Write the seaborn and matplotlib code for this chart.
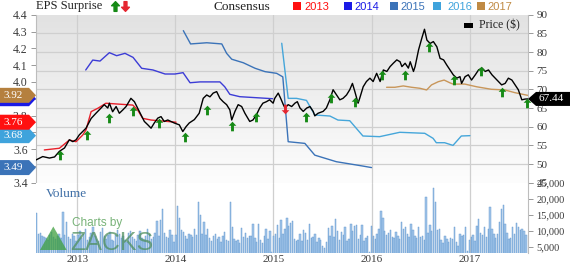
import numpy as np
import pandas as pd
import matplotlib
matplotlib.use("Agg")
import matplotlib.pyplot as plt
import seaborn as sns
from matplotlib.path import Path
from matplotlib.patches import Polygon, Rectangle
from matplotlib.lines import Line2D
from matplotlib.colors import LinearSegmentedColormap
import matplotlib.transforms as mtransforms
from matplotlib.ticker import FixedLocator

# ---------------- data ----------------
price_dates = ['2012-08-01','2012-08-26','2012-09-20','2012-10-09','2012-10-27','2012-11-15','2012-12-03','2012-12-16','2012-12-28',
 '2013-01-09','2013-02-03','2013-02-22','2013-03-12','2013-03-31','2013-04-12','2013-04-25','2013-05-01','2013-05-13','2013-05-26',
 '2013-06-07','2013-06-20','2013-07-02','2013-07-20','2013-08-02','2013-08-14','2013-08-27','2013-09-08','2013-09-21','2013-10-03',
 '2013-10-15','2013-10-28','2013-11-09','2013-11-21','2013-12-04','2013-12-16','2013-12-28','2014-01-16','2014-01-29','2014-02-10',
 '2014-02-22','2014-03-13','2014-03-31','2014-04-15','2014-04-28','2014-05-10','2014-05-22','2014-06-04','2014-06-16','2014-06-28',
 '2014-07-11','2014-07-23','2014-07-30','2014-08-11','2014-08-23','2014-09-05','2014-09-17','2014-10-05','2014-10-17','2014-10-30',
 '2014-11-11','2014-11-23','2014-12-06','2014-12-18','2014-12-31','2015-01-06','2015-01-19','2015-01-28','2015-02-07','2015-02-13',
 '2015-02-25','2015-03-10','2015-03-22','2015-03-31','2015-04-10','2015-04-22','2015-05-05','2015-05-17','2015-05-29','2015-06-04',
 '2015-06-16','2015-07-05','2015-07-17','2015-07-30','2015-08-11','2015-08-24','2015-09-05','2015-09-17','2015-09-30','2015-10-12',
 '2015-10-22','2015-10-31','2015-11-12','2015-11-18','2015-12-01','2015-12-13','2015-12-26','2016-01-07','2016-01-20','2016-02-02',
 '2016-02-14','2016-02-27','2016-03-10','2016-03-22','2016-04-04','2016-04-16','2016-04-23','2016-05-05','2016-05-17','2016-05-24',
 '2016-06-05','2016-06-11','2016-06-24','2016-07-06','2016-07-16','2016-07-25','2016-08-06','2016-08-18','2016-08-31','2016-09-12',
 '2016-09-25','2016-10-07','2016-10-19','2016-10-31','2016-11-13','2016-11-25','2016-12-01','2016-12-14','2016-12-26','2017-01-07',
 '2017-01-21','2017-02-02','2017-02-15','2017-02-27','2017-03-11','2017-03-24','2017-04-05','2017-04-17','2017-04-29','2017-05-12',
 '2017-05-24','2017-06-06','2017-06-18','2017-06-30','2017-07-13','2017-07-25','2017-08-04']
price_vals = [51.1,52.0,51.6,51.9,53.4,54.3,56.5,56.0,56.5,
 57.8,59.6,62.2,63.6,65.0,65.9,65.0,66.3,64.0,65.4,
 63.6,64.5,65.4,67.6,66.7,65.0,63.2,61.4,60.5,59.6,
 61.0,62.3,62.7,61.4,61.8,61.4,61.0,60.5,58.7,60.0,
 61.0,61.9,63.6,67.6,68.5,68.0,69.0,69.4,67.6,66.7,
 65.9,64.5,61.8,64.1,65.9,65.4,63.6,61.4,61.8,63.2,
 65.0,66.3,66.7,67.2,66.3,67.6,69.0,67.6,65.9,65.0,
 65.9,65.4,66.3,66.7,65.0,64.1,65.0,65.4,64.1,62.9,
 63.6,64.1,65.0,67.2,69.9,68.5,67.2,67.6,68.5,69.9,
 71.6,69.4,66.3,67.6,70.7,72.1,73.0,72.1,74.3,72.1,
 75.2,74.8,76.1,77.0,77.9,77.4,76.1,77.0,75.7,77.4,
 74.8,76.1,80.6,83.7,86.1,83.2,82.3,82.8,81.4,78.3,
 77.9,76.5,75.2,73.9,73.0,73.4,71.6,73.4,73.9,72.5,
 73.9,75.2,75.7,74.8,75.2,73.9,73.0,72.1,71.2,71.6,
 73.0,72.5,71.2,69.9,67.2,67.4,67.44]

# consensus EPS estimates by fiscal year
cons_2013_dates = ['2012-09-01','2012-10-27','2012-12-03','2012-12-28','2013-01-22','2013-02-03','2013-02-22','2013-03-19',
                   '2013-04-18','2013-07-27','2013-08-14','2013-09-02','2013-10-03','2014-01-04']
cons_2013_vals = [3.595,3.605,3.654,3.644,3.684,3.714,3.823,3.843,3.873,3.862,3.833,3.783,3.773,3.76]
cons_2014_dates = ['2013-02-02','2013-02-28','2013-03-27','2013-05-01','2013-05-28','2013-06-28','2013-07-28','2013-08-29',
                   '2013-10-10','2013-11-24','2013-12-31','2014-01-30','2014-02-25','2014-04-03','2014-06-16','2014-07-04',
                   '2014-07-23','2014-08-29','2014-12-29']
cons_2014_vals = [4.071,4.130,4.124,4.174,4.156,4.170,4.146,4.081,4.071,4.047,4.047,4.055,3.995,4.0,4.0,3.971,3.926,3.912,3.90]
cons_2015_dates = ['2014-01-31','2014-02-27','2014-04-03','2014-04-28','2014-06-23','2014-07-11','2014-07-30','2014-09-11',
                   '2014-10-25','2014-12-01','2015-01-13','2015-02-05','2015-02-25','2015-04-28','2015-06-04','2015-08-23',
                   '2015-11-30','2016-01-01']
cons_2015_vals = [4.305,4.226,4.23,4.233,4.226,4.17,4.135,4.114,4.081,4.061,4.051,4.03,3.644,3.634,3.564,3.525,3.499,3.49]
cons_2016_dates = ['2015-02-01','2015-02-25','2015-03-28','2015-05-04','2015-06-04','2015-07-30','2015-08-29','2015-10-12',
                   '2015-11-30','2016-01-31','2016-04-15','2016-07-17','2016-08-17','2016-08-29','2016-09-29','2016-10-30',
                   '2016-11-30','2017-01-01']
cons_2016_vals = [4.23,3.902,3.902,3.89,3.803,3.797,3.773,3.769,3.678,3.674,3.70,3.694,3.664,3.638,3.638,3.622,3.678,3.68]
cons_2017_dates = ['2016-02-26','2016-03-28','2016-04-28','2016-05-29','2016-06-29','2016-07-24','2016-08-11','2016-09-05',
                   '2016-09-27','2016-10-18','2016-10-30','2016-12-13','2017-01-26','2017-03-22','2017-05-11','2017-06-17',
                   '2017-08-04']
cons_2017_vals = [3.968,3.968,3.976,3.968,3.962,3.952,3.982,4.001,4.011,3.995,3.987,3.987,3.971,3.956,3.952,3.936,3.92]

# EPS surprise markers (date, price level, beat=True / miss=False)
surp_dates = ['2012-10-30','2013-02-06','2013-05-01','2013-07-29','2013-11-03','2014-02-06','2014-04-30','2014-07-30',
              '2014-10-27','2015-02-12','2015-05-04','2015-08-02','2015-11-01','2016-02-09','2016-05-03','2016-08-01',
              '2016-11-01','2017-02-10','2017-05-01','2017-08-03']
surp_prices = [52.5,57.8,62.3,64.3,61.0,57.2,64.5,60.2,62.7,64.7,62.5,67.6,66.7,73.9,73.9,81.4,72.5,74.9,69.4,66.3]
surp_beat = [True]*9 + [False] + [True]*10

# weekly volume (thousands of shares), weeks starting 2012-08-03
volume_k = [15.5,9.0,9.2,8.4,8.0,7.6,7.2,8.8,9.6,8.1,7.4,8.3,9.0,7.7,15.8,8.6,12.6,7.9,7.3,8.9,8.2,6.8,
 8.5,9.8,7.6,8.9,10.5,7.2,8.0,9.3,11.2,8.4,7.5,6.9,9.7,10.8,8.2,7.4,8.8,9.5,7.1,6.8,8.6,10.2,9.0,7.7,8.3,7.0,
 6.6,9.4,10.0,8.1,7.3,6.9,8.7,9.9,7.8,7.2,8.4,10.6,9.1,7.5,8.0,9.2,12.9,8.3,13.2,16.9,9.4,8.1,7.6,10.3,8.8,6.4,
 8.6,17.7,13.9,10.1,9.6,8.2,7.4,9.0,8.5,7.9,10.4,8.8,19.0,15.0,9.1,12.8,8.6,10.5,7.8,6.9,8.3,9.1,7.5,8.0,6.6,8.4,
 9.6,7.2,6.8,19.1,11.0,7.4,6.9,7.1,6.2,10.7,8.0,9.2,7.6,8.3,8.4,12.0,7.7,6.5,12.1,7.0,6.1,8.3,10.6,7.4,9.8,3.5,
 8.2,9.0,11.7,7.6,13.2,8.9,10.4,14.0,11.6,12.5,13.1,7.4,6.8,7.2,8.9,6.7,10.2,9.4,7.0,12.0,7.6,8.1,9.0,6.5,7.8,7.1,
 5.2,4.6,6.4,10.8,8.3,11.4,7.9,13.5,10.0,7.0,9.6,8.5,11.2,6.8,7.4,12.1,9.9,11.6,11.9,7.3,8.8,11.8,6.9,7.7,8.4,3.4,
 11.6,8.2,7.4,8.9,10.4,16.2,14.1,9.8,8.7,9.4,10.2,8.0,7.6,9.6,8.2,7.5,12.8,10.6,11.3,9.0,8.1,12.0,10.1,8.4,7.7,11.0,
 7.9,8.3,7.1,20.6,9.3,11.9,10.0,23.2,18.9,10.2,10.6,7.0,6.3,8.2,7.5,6.6,7.6,7.4,11.2,6.5,5.2,8.9,8.4,8.6,11.1,3.6,
 7.1,8.1,8.6,6.9,11.5,13.8,9.2,8.7,11.0,8.1,10.6,17.5,10.5,8.9,7.8,9.0,12.8,16.8,18.0,12.0,9.2,7.5,7.6,11.2,8.9,
 12.4,11.0,10.2,10.5,9.8,8.6]

years = ['2013', '2014', '2015', '2016', '2017']
year_colors = ['#ff1010', '#1a1ae6', '#3b73b8', '#3fa3dc', '#c08a44']
line_colors = ['#e8202a', '#3c3cd6', '#3b73b8', '#45a6da', '#c8965a']
badge_vals = [3.76, 3.90, 3.49, 3.68, 3.92]
badge_text = ['3.76', '3.90', '3.49', '3.68', '3.92']
last_price = 67.44
eps_ticks = [3.4, 3.5, 3.6, 3.7, 3.8, 3.9, 4.0, 4.1, 4.2, 4.3, 4.4]
eps_labels = ['3.4', '', '3.6', '', '3.8', '', '4.0', '4.1', '4.2', '4.3', '4.4']   # blanks sit under badges
price_ticks = [45, 50, 55, 60, 65, 70, 75, 80, 85, 90]
vol_ticks = [5000, 10000, 15000, 20000, 25000]

# ---------------- style ----------------
sns.set_theme(style='white')
plt.rcParams['font.family'] = ['Liberation Serif', 'DejaVu Serif']
plt.rcParams['axes.linewidth'] = 0.8

W, H = 570, 264
fig = plt.figure(figsize=(W / 100, H / 100), dpi=100)
fx = lambda x: x / W
fy = lambda y: 1 - y / H

L, R = 36, 528
TOP, MID, BOT = 14.7, 182.7, 253.1
rect_main = [fx(L), fy(MID), fx(R) - fx(L), fy(TOP) - fy(MID)]
rect_vol = [fx(L), fy(BOT), fx(R) - fx(L), fy(MID) - fy(BOT)]

# background gradient
bg = fig.add_axes(rect_main, zorder=-1)
grad = LinearSegmentedColormap.from_list('g', ['#fdfdfd', '#e2e2e2'])
bg.imshow(np.linspace(0, 1, 256).reshape(-1, 1), cmap=grad, aspect='auto', origin='lower', extent=[0, 1, 0, 1])
bg.set_axis_off()

ax_eps = fig.add_axes(rect_main)
ax_eps.patch.set_alpha(0)
ax_price = ax_eps.twinx()
ax_vol = fig.add_axes(rect_vol, sharex=ax_eps)
ax_vol.patch.set_facecolor('white')

xmin, xmax = pd.Timestamp('2012-08-01'), pd.Timestamp('2017-08-05')

# consensus lines
cons = [(cons_2013_dates, cons_2013_vals), (cons_2014_dates, cons_2014_vals), (cons_2015_dates, cons_2015_vals),
        (cons_2016_dates, cons_2016_vals), (cons_2017_dates, cons_2017_vals)]
for (d, v), c in zip(cons, line_colors):
    sns.lineplot(x=pd.to_datetime(d), y=v, ax=ax_eps, color=c, linewidth=1.0, estimator=None, sort=False, zorder=3)

# price line
sns.lineplot(x=pd.to_datetime(price_dates), y=price_vals, ax=ax_price, color='black', linewidth=1.0,
             estimator=None, sort=False, zorder=3)

# surprise arrows
up = Path([(0, 1), (0.8, 0.15), (0.3, 0.15), (0.3, -1), (-0.3, -1), (-0.3, 0.15), (-0.8, 0.15), (0, 1)],
          [Path.MOVETO] + [Path.LINETO] * 6 + [Path.CLOSEPOLY])
down = Path([(x, -y) for x, y in up.vertices], up.codes)
sd = pd.to_datetime(surp_dates)
beat_idx = [i for i, b in enumerate(surp_beat) if b]
miss_idx = [i for i, b in enumerate(surp_beat) if not b]
sns.scatterplot(x=sd[beat_idx], y=[surp_prices[i] for i in beat_idx], ax=ax_price, marker=up, s=48,
                color='#168a16', linewidth=0, zorder=4, clip_on=False)
sns.scatterplot(x=sd[miss_idx], y=[surp_prices[i] for i in miss_idx], ax=ax_price, marker=down, s=48,
                color='#e52630', linewidth=0, zorder=4)

# volume bars
vol_dates = pd.date_range('2012-08-03', periods=len(volume_k), freq='7D')
ax_vol.bar(vol_dates, np.array(volume_k) * 1000, width=5.2, color='#a3c6ea', edgecolor='#5f95cc',
           linewidth=0.3, zorder=2)

# ---------------- axes ----------------
ax_eps.set_xlim(xmin, xmax)
ax_eps.set_ylim(3.4, 4.4)
ax_price.set_ylim(45, 90)
ax_vol.set_ylim(3000, 25000)

year_ticks = pd.to_datetime([f'{y}-01-01' for y in years])
ax_vol.set_xticks(year_ticks)
ax_vol.set_xticklabels(years)
ax_eps.set_yticks(eps_ticks)
ax_eps.set_yticklabels(eps_labels)
ax_eps.yaxis.set_minor_locator(FixedLocator([3.4 + (p - 45) / 45 for p in price_ticks]))
ax_price.set_yticks(price_ticks)
ax_price.set_yticklabels([str(t) for t in price_ticks])
ax_vol.yaxis.tick_right()
ax_vol.set_yticks(vol_ticks)
ax_vol.set_yticklabels([f'{t:,}' for t in vol_ticks])

gc = '#cfcfcf'
ax_eps.grid(axis='x', color=gc, linewidth=0.9, zorder=0)
ax_eps.grid(axis='y', which='minor', color=gc, linewidth=0.9)
ax_eps.grid(axis='y', which='major', visible=False)
ax_vol.grid(axis='x', color=gc, linewidth=0.9)
ax_vol.grid(axis='y', visible=False)
ax_price.grid(False)
ax_eps.set_axisbelow(True)
ax_vol.set_axisbelow(True)

for a in (ax_eps, ax_price, ax_vol):
    a.set_xlabel('')
    a.set_ylabel('')
    for s in a.spines.values():
        s.set_visible(False)
ax_eps.spines['left'].set_visible(True)
ax_eps.spines['left'].set_color('#bdbdbd')
ax_price.spines['right'].set_visible(True)
ax_price.spines['right'].set_color('#bdbdbd')
ax_vol.spines['right'].set_visible(True)
ax_vol.spines['right'].set_color('#bdbdbd')

tc = '#3a3a3a'
ax_eps.tick_params(axis='y', which='major', left=True, length=3.5, width=0.7, color='#999999', pad=2.5,
                   labelsize=8.5, labelcolor=tc)
ax_eps.tick_params(axis='y', which='minor', length=0)
ax_eps.tick_params(axis='x', bottom=False, labelbottom=False)
ax_price.tick_params(axis='y', right=True, length=3.5, width=0.7, color='#999999', pad=2.5, labelsize=8,
                     labelcolor=tc)
ax_vol.tick_params(axis='y', right=True, left=False, length=3.5, width=0.7, color='#999999', pad=2.5,
                   labelsize=7.5, labelcolor=tc)
ax_vol.tick_params(axis='x', bottom=False, length=0, pad=1.5, labelsize=8, labelcolor=tc)

# ---------------- badges ----------------
tl = mtransforms.blended_transform_factory(mtransforms.IdentityTransform(), ax_eps.transData)
hh = 7.5 / 168.0
order = [1, 2, 3, 0, 4]
for i in order:
    v = badge_vals[i]
    poly = Polygon([(0, v + hh), (29, v + hh), (36, v), (29, v - hh), (0, v - hh)], closed=True,
                   transform=tl, facecolor=year_colors[i] if i != 4 else '#b5803e', edgecolor='none',
                   zorder=6, clip_on=False)
    ax_eps.add_patch(poly)
    if i != 1:
        ax_eps.text(13.5, v, badge_text[i], transform=tl, ha='center', va='center', color='white',
                    fontsize=8, zorder=7, clip_on=False)

tr = mtransforms.blended_transform_factory(mtransforms.IdentityTransform(), ax_price.transData)
hp = 7.0 / (168.0 / 45)
ax_price.add_patch(Polygon([(R, last_price), (R + 8, last_price + hp), (W, last_price + hp), (W, last_price - hp),
                            (R + 8, last_price - hp)], closed=True, transform=tr, facecolor='black',
                           edgecolor='none', zorder=6, clip_on=False))
ax_price.text(551, last_price, f'{last_price:.2f}', transform=tr, ha='center', va='center', color='white',
              fontsize=8, zorder=7, clip_on=False)

# ---------------- header / legend ----------------
fig.text(fx(36), fy(9.5), 'EPS Surprise', fontsize=9, color='#222222', va='baseline', ha='left')
fig.add_artist(Line2D([fx(115)], [fy(6)], marker=up, markersize=7, color='#168a16', linestyle='none',
                      transform=fig.transFigure))
fig.add_artist(Line2D([fx(125)], [fy(6)], marker=down, markersize=7, color='#e52630', linestyle='none',
                      transform=fig.transFigure))
fig.text(fx(213), fy(9.5), 'Consensus', fontsize=9.5, color='#222222', va='baseline', ha='left')
sq_x = [293, 344, 390, 433, 477]
tx_x = [304, 354, 400, 447, 487]
for y_lbl, c, sx, tx in zip(years, year_colors, sq_x, tx_x):
    fig.add_artist(Rectangle((fx(sx), fy(10)), 8 / W, 8 / H, transform=fig.transFigure, facecolor=c,
                             edgecolor='none'))
    fig.text(fx(tx), fy(9.5), y_lbl, fontsize=8, color=c, va='baseline', ha='left',
             family=['Liberation Sans', 'DejaVu Sans'])

fig.add_artist(Rectangle((fx(464), fy(27.5)), 8.5 / W, 5 / H, transform=fig.transFigure, facecolor='black',
                         edgecolor='none'))
fig.text(fx(479), fy(28.5), 'Price ($)', fontsize=8.5, color='#222222', va='baseline', ha='left')

# volume label and watermark
fig.text(fx(46), fy(197), 'Volume', fontsize=9.5, color='#3f6fa6', va='baseline', ha='left')
fig.text(fx(72), fy(226), 'Charts by', fontsize=8.5, color='#5fa55f', alpha=0.85, va='baseline', ha='left',
         family=['Liberation Sans', 'DejaVu Sans'], zorder=10)
fig.text(fx(70), fy(250), 'ZACKS', fontsize=18, color='#4f8f5e', alpha=0.75, va='baseline', ha='left',
         family=['Liberation Sans', 'DejaVu Sans'], zorder=10)
fig.add_artist(Polygon([(fx(40), fy(250)), (fx(53.3), fy(226.5)), (fx(66.7), fy(250))], closed=True,
                       transform=fig.transFigure, facecolor='#3f9f3f', alpha=0.75, edgecolor='none', zorder=10))

fig.savefig('out.png', dpi=100)
